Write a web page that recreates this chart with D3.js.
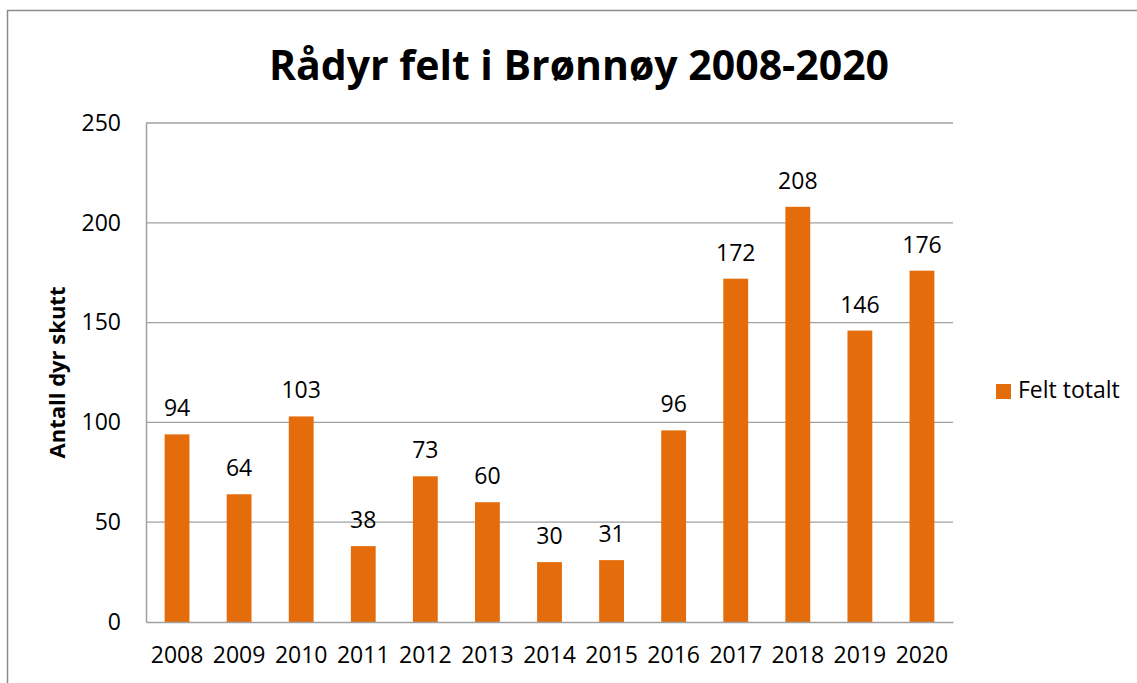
<!DOCTYPE html>
<html>
<head>
<meta charset="utf-8">
<script src="https://cdn.jsdelivr.net/npm/d3@7"></script>
<style>
  body { margin: 0; background: #fff; }
  svg text { font-family: "Open Sans", sans-serif; fill: #000; }
</style>
</head>
<body>
<div id="chart"></div>
<script>
const years = ["2008", "2009", "2010", "2011", "2012", "2013", "2014", "2015", "2016", "2017", "2018", "2019", "2020"];
const felt = [94, 64, 103, 38, 73, 60, 30, 31, 96, 172, 208, 146, 176];
const yTicks = [0, 50, 100, 150, 200, 250];

const width = 1137, height = 683;
const m = { left: 146, right: 953, top: 123, bottom: 622 };

const svg = d3.select('#chart')
  .append('svg')
  .attr('width', width)
  .attr('height', height);

// outer frame
svg.append('rect')
  .attr('x', 7.5).attr('y', 10.5)
  .attr('width', width).attr('height', height)
  .attr('fill', 'none')
  .attr('stroke', '#8c8c8c')
  .attr('stroke-width', 1.5);

const x = d3.scaleBand()
  .domain(years)
  .range([m.left, m.right])
  .paddingInner(0.6)
  .paddingOuter(0.3);

const y = d3.scaleLinear()
  .domain([0, 250])
  .range([m.bottom, m.top]);

// gridlines
svg.append('g')
  .selectAll('line')
  .data(yTicks.filter(d => d > 0))
  .join('line')
  .attr('x1', m.left).attr('x2', m.right)
  .attr('y1', d => y(d)).attr('y2', d => y(d))
  .attr('stroke', '#a0a0a0')
  .attr('stroke-width', 1.3);

// y axis
const yAxis = svg.append('g')
  .attr('transform', `translate(${m.left},0)`)
  .call(d3.axisLeft(y).tickValues(yTicks).tickSize(0).tickPadding(25));
yAxis.select('.domain').attr('stroke', '#a0a0a0').attr('stroke-width', 1.5);
yAxis.selectAll('text').style('font-size', '23px');

// bars
svg.append('g')
  .selectAll('rect')
  .data(felt)
  .join('rect')
  .attr('x', (d, i) => x(years[i]))
  .attr('y', d => y(d))
  .attr('width', x.bandwidth())
  .attr('height', d => y(0) - y(d))
  .attr('fill', '#e46c0a');

// x axis
const xAxis = svg.append('g')
  .attr('transform', `translate(0,${m.bottom})`)
  .call(d3.axisBottom(x).tickSize(0).tickPadding(25));
xAxis.select('.domain').attr('stroke', '#a0a0a0').attr('stroke-width', 1.5);
xAxis.selectAll('text').style('font-size', '23px');

// value labels
svg.append('g')
  .selectAll('text')
  .data(felt)
  .join('text')
  .attr('x', (d, i) => x(years[i]) + x.bandwidth() / 2)
  .attr('y', d => y(d) - 18)
  .attr('text-anchor', 'middle')
  .style('font-size', '23px')
  .text(d => d);

// title
svg.append('text')
  .attr('x', 579).attr('y', 80)
  .attr('text-anchor', 'middle')
  .style('font-size', '41px')
  .style('font-weight', 'bold')
  .text('Rådyr felt i Brønnøy 2008-2020');

// y label
svg.append('text')
  .attr('transform', `translate(65,${(m.top + m.bottom) / 2}) rotate(-90)`)
  .attr('text-anchor', 'middle')
  .style('font-size', '22px')
  .style('font-weight', 'bold')
  .text('Antall dyr skutt');

// legend
const legend = svg.append('g').attr('transform', 'translate(996,384)');
legend.append('rect')
  .attr('width', 15).attr('height', 15)
  .attr('fill', '#e46c0a');
legend.append('text')
  .attr('x', 22).attr('y', 14)
  .style('font-size', '23px')
  .text('Felt totalt');
</script>
</body>
</html>
